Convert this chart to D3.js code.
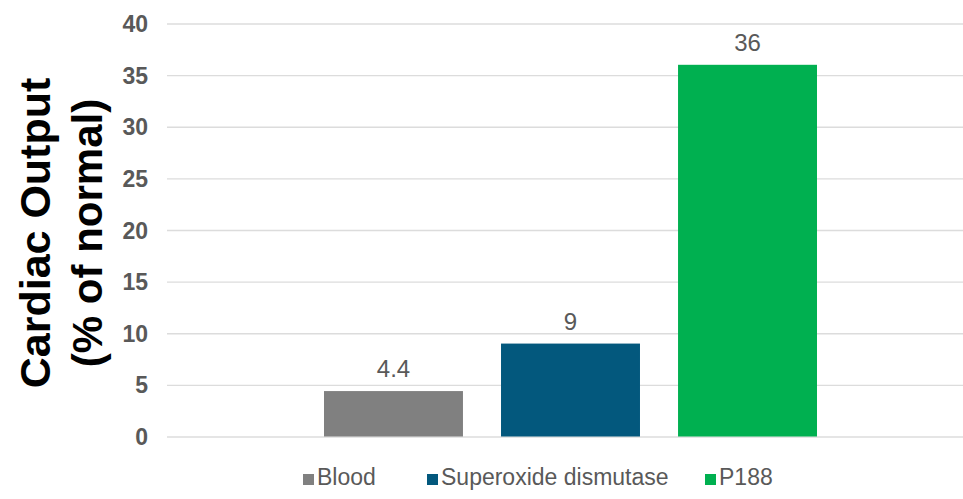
<!DOCTYPE html>
<html>
<head>
<meta charset="utf-8">
<script src="https://cdn.jsdelivr.net/npm/d3@7"></script>
<style>
  body { margin: 0; background: #fff; }
  text { font-family: "Liberation Sans", Arial, sans-serif; }
</style>
</head>
<body>
<div id="chart"></div>
<script>
// data
const seriesNames = ["Blood", "Superoxide dismutase", "P188"];
const seriesValues = [4.4, 9, 36];
const seriesColors = ["#808080", "#03587d", "#00b050"];
const yTicks = [0, 5, 10, 15, 20, 25, 30, 35, 40];

const svgWidth = 963;
const svgHeight = 499;

const svg = d3.select("#chart")
  .append("svg")
  .attr("width", svgWidth)
  .attr("height", svgHeight);

// scales
const yScale = d3.scaleLinear()
  .domain([0, 40])
  .range([436.5, 23.5]);

const xScale = d3.scaleBand()
  .domain(seriesNames)
  .range([324, 817])
  .paddingInner(0.215);

// gridlines + tick labels
const yAxis = d3.axisLeft(yScale)
  .tickValues(yTicks)
  .tickSize(-(963 - 167))
  .tickPadding(19);

const yAxisG = svg.append("g")
  .attr("transform", "translate(167,0)")
  .call(yAxis);
yAxisG.select(".domain").remove();
yAxisG.selectAll(".tick line")
  .attr("stroke", "#dcdcdc")
  .attr("stroke-width", 1.3);
yAxisG.selectAll(".tick text")
  .attr("fill", "#595959")
  .attr("font-size", 23)
  .attr("font-weight", "bold")
  .attr("dy", "0.35em");

// bars
svg.selectAll("rect.bar")
  .data(seriesNames)
  .enter()
  .append("rect")
  .attr("class", "bar")
  .attr("x", d => xScale(d))
  .attr("width", xScale.bandwidth())
  .attr("y", (d, i) => yScale(seriesValues[i]))
  .attr("height", (d, i) => yScale(0) - yScale(seriesValues[i]))
  .attr("fill", (d, i) => seriesColors[i]);

// value labels
svg.selectAll("text.val")
  .data(seriesNames)
  .enter()
  .append("text")
  .attr("class", "val")
  .attr("x", d => xScale(d) + xScale.bandwidth() / 2)
  .attr("y", (d, i) => yScale(seriesValues[i]) - 14)
  .attr("text-anchor", "middle")
  .attr("font-size", 24)
  .attr("fill", "#595959")
  .text((d, i) => seriesValues[i]);

// y axis title
const titleG = svg.append("g")
  .attr("transform", "translate(0,233) rotate(-90)");
titleG.append("text")
  .attr("x", 0)
  .attr("y", 50)
  .attr("text-anchor", "middle")
  .attr("font-size", 43)
  .attr("font-weight", "bold")
  .attr("fill", "#000")
  .text("Cardiac Output");
titleG.append("text")
  .attr("x", 0)
  .attr("y", 102)
  .attr("text-anchor", "middle")
  .attr("font-size", 42)
  .attr("font-weight", "bold")
  .attr("fill", "#000")
  .text("(% of normal)");

// legend
const legendX = [303, 427, 705];
const legend = svg.append("g");
const items = legend.selectAll("g")
  .data(seriesNames)
  .enter()
  .append("g")
  .attr("transform", (d, i) => `translate(${legendX[i]},0)`);
items.append("rect")
  .attr("x", 0)
  .attr("y", 474)
  .attr("width", 11)
  .attr("height", 11)
  .attr("fill", (d, i) => seriesColors[i]);
items.append("text")
  .attr("x", 14)
  .attr("y", 485)
  .attr("font-size", 23)
  .attr("fill", "#595959")
  .text(d => d);
</script>
</body>
</html>
